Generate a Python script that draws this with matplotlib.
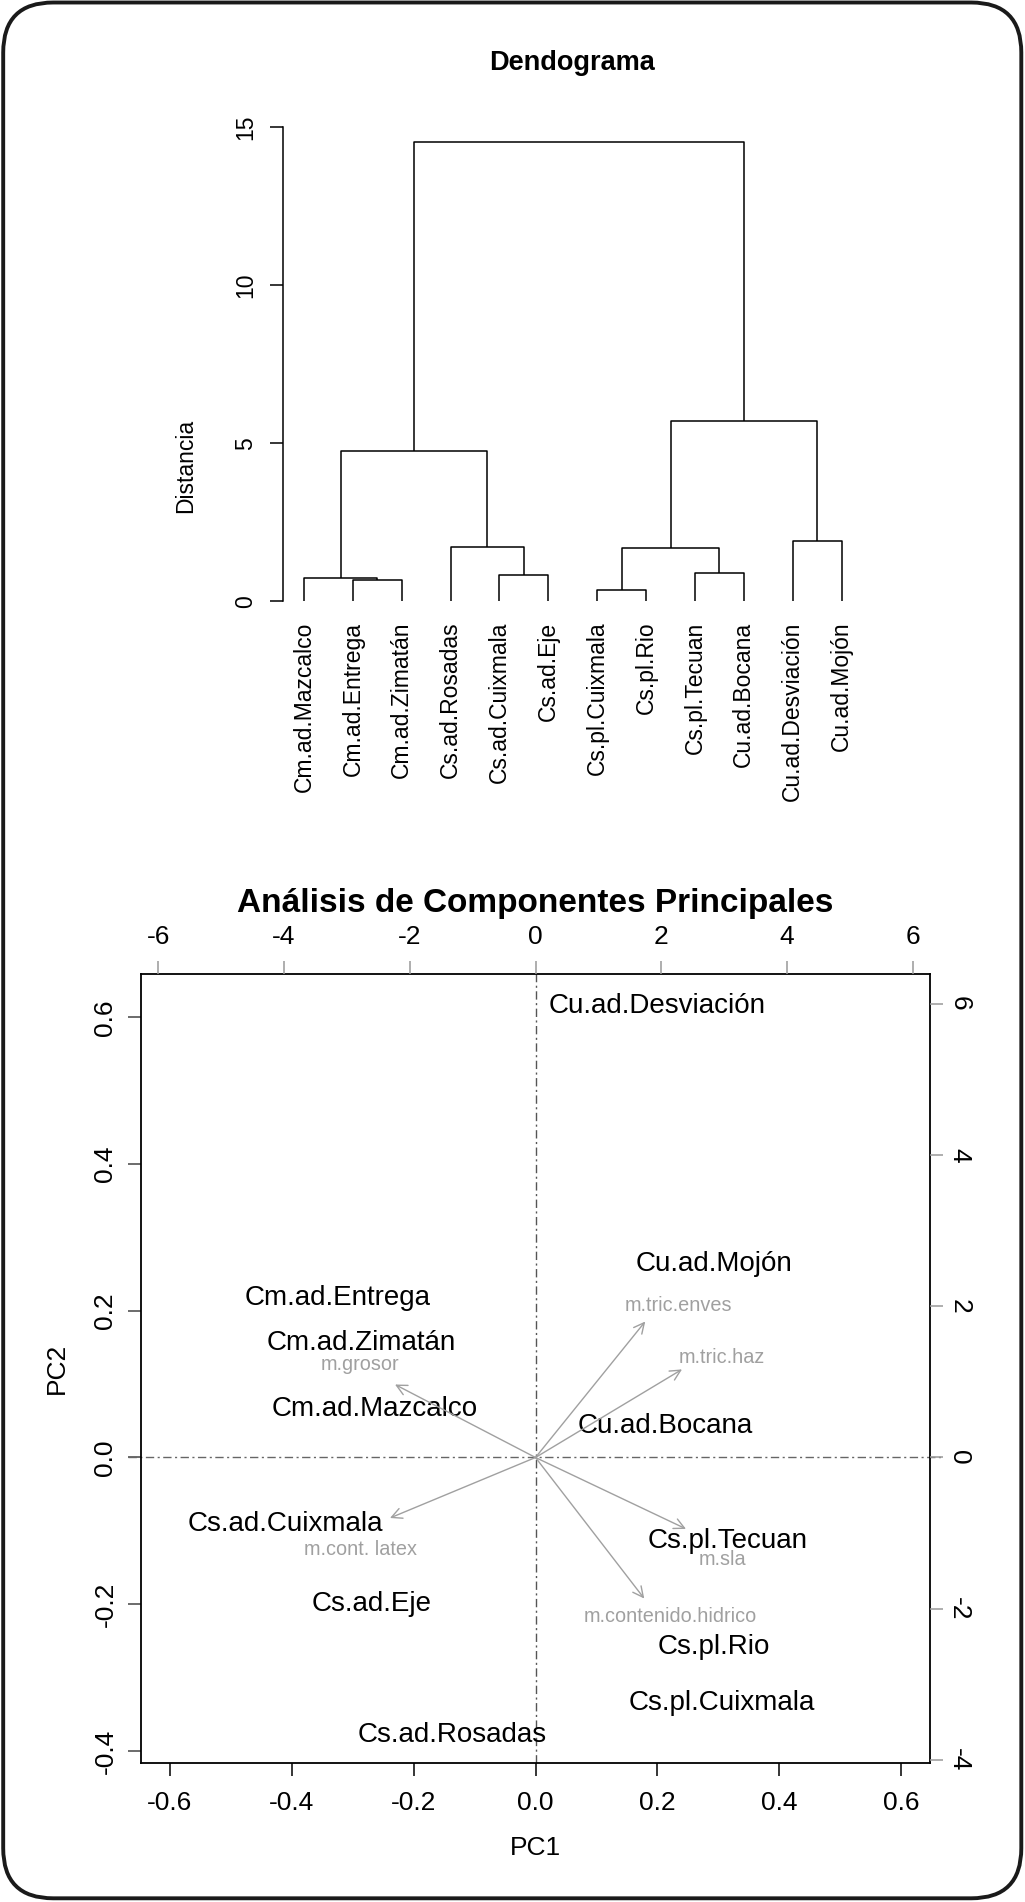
import matplotlib
matplotlib.use("Agg")
import matplotlib.pyplot as plt
from matplotlib.patches import FancyBboxPatch
import numpy as np

plt.rcParams['font.family'] = ['Liberation Sans', 'DejaVu Sans']

W, H = 1025, 1902

# ---------------- dendrogram data ----------------
leaves = ['Cm.ad.Mazcalco', 'Cm.ad.Entrega', 'Cm.ad.Zimatán', 'Cs.ad.Rosadas',
          'Cs.ad.Cuixmala', 'Cs.ad.Eje', 'Cs.pl.Cuixmala', 'Cs.pl.Rio',
          'Cs.pl.Tecuan', 'Cu.ad.Bocana', 'Cu.ad.Desviación', 'Cu.ad.Mojón']
# R style merge matrix: negative = leaf (1-based), positive = earlier merge row
merge_a = [-2, -1, -5, -4, 2, -7, -9, 6, -11, 8, 5]
merge_b = [-3, 1, -6, 3, 4, -8, -10, 7, -12, 9, 10]
heights = [0.675, 0.75, 0.84, 1.73, 4.75, 0.375, 0.89, 1.68, 1.90, 5.71, 14.53]
dist_ticks = [0, 5, 10, 15]

# ---------------- PCA biplot data ----------------
obs_names = ['Cu.ad.Desviación', 'Cu.ad.Mojón', 'Cm.ad.Entrega', 'Cm.ad.Zimatán',
             'Cm.ad.Mazcalco', 'Cu.ad.Bocana', 'Cs.ad.Cuixmala', 'Cs.pl.Tecuan',
             'Cs.ad.Eje', 'Cs.pl.Rio', 'Cs.pl.Cuixmala', 'Cs.ad.Rosadas']
pc1 = [0.200, 0.293, -0.325, -0.285, -0.264, 0.212, -0.410, 0.315, -0.269, 0.292, 0.305, -0.136]
pc2 = [0.616, 0.264, 0.217, 0.156, 0.066, 0.043, -0.091, -0.114, -0.200, -0.258, -0.335, -0.378]

var_names = ['m.tric.enves', 'm.tric.haz', 'm.grosor', 'm.cont. latex', 'm.sla', 'm.contenido.hidrico']
arrow_x = [1.746, 2.331, -2.235, -2.315, 2.394, 1.730]
arrow_y = [1.798, 1.165, 0.965, -0.800, -0.944, -1.865]
varlab_x = [2.270, 2.971, -2.797, -2.789, 2.971, 2.142]
varlab_y = [2.011, 1.318, 1.232, -1.212, -1.352, -2.098]

pc1_ticks = [-0.6, -0.4, -0.2, 0.0, 0.2, 0.4, 0.6]
pc2_ticks = [-0.4, -0.2, 0.0, 0.2, 0.4, 0.6]
top_ticks = [-6, -4, -2, 0, 2, 4, 6]
right_ticks = [-4, -2, 0, 2, 4, 6]
ratio = 9.70
xlim = (-0.647, 0.647)
ylim = (-0.416, 0.6586)


def fx(px):
    return px / W


def fy(py):
    return 1 - py / H


fig = plt.figure(figsize=(W / 100, H / 100), dpi=100)

# rounded frame
bg = fig.add_axes([0, 0, 1, 1])
bg.set_xlim(0, W)
bg.set_ylim(H, 0)
bg.axis('off')
bg.add_patch(FancyBboxPatch((3.2, 2.5), 1021.3 - 3.2, 1898.3 - 2.5,
                            boxstyle="round,pad=0,rounding_size=50",
                            lw=2.8, ec='#1a1a1a', fc='none'))

# ================= dendrogram =================
ax = fig.add_axes([fx(282.5), fy(619.8), fx(863.1) - fx(282.5), fy(123.6) - fy(619.8)])
n = len(leaves)
leaf_x = np.arange(1, n + 1)
node_x, node_h = [], []


def pos(k):
    if k < 0:
        return leaf_x[-k - 1], 0.0
    return node_x[k - 1], node_h[k - 1]


for a, b, h in zip(merge_a, merge_b, heights):
    xa, ha = pos(a)
    xb, hb = pos(b)
    ax.plot([xa, xa, xb, xb], [ha, h, h, hb], color='black', lw=1.1, solid_capstyle='butt')
    node_x.append((xa + xb) / 2)
    node_h.append(h)

ax.set_xlim(0.56, 12.44)
ax.set_ylim(-0.581, 15.106)
for s in ['top', 'right', 'bottom']:
    ax.spines[s].set_visible(False)
ax.spines['left'].set_bounds(0, 15)
ax.spines['left'].set_linewidth(1.1)
ax.set_xticks([])
ax.set_yticks(dist_ticks)
ax.set_yticklabels([str(t) for t in dist_ticks], rotation=90, va='center')
ax.tick_params(axis='y', length=9.6, width=1.1, pad=8.6, labelsize=16.5)
ax.patch.set_visible(False)

for x, name in zip(leaf_x, leaves):
    ax.annotate(name, xy=(x, 0), xytext=(0, -14.6), textcoords='offset points',
                rotation=90, ha='center', va='top', fontsize=16.5)

fig.text(fx(572), fy(69.5), 'Dendograma', ha='center', va='baseline',
         fontsize=19.5, fontweight='bold')
fig.text(fx(186), fy(466), 'Distancia', ha='center', va='center',
         rotation=90, fontsize=16.5)

# ================= PCA biplot =================
rect = [fx(141), fy(1762.7), fx(930) - fx(141), fy(974.3) - fy(1762.7)]
bx = fig.add_axes(rect)
bx.set_xlim(*xlim)
bx.set_ylim(*ylim)
for s in bx.spines.values():
    s.set_linewidth(1.3)
bx.set_xticks(pc1_ticks)
bx.set_xticklabels(['%.1f' % t for t in pc1_ticks])
bx.set_yticks(pc2_ticks)
bx.set_yticklabels(['%.1f' % t for t in pc2_ticks], rotation=90, va='center')
bx.tick_params(axis='x', length=9.4, width=1.1, pad=11, labelsize=19)
bx.tick_params(axis='y', length=9.4, width=1.1, pad=7.6, labelsize=19, color='#444444')

bx.axvline(0, color='#555555', lw=1.0, ls=(0, (6, 2.5, 1.5, 2.5)))
bx.plot([-0.669, 0.667], [0, 0], color='#666666', lw=1.0,
        ls=(0, (6, 2.5, 1.5, 2.5)), clip_on=False)

for x, y, name in zip(pc1, pc2, obs_names):
    bx.text(x, y, name, ha='center', va='center', fontsize=20)

# secondary coordinate system for the loadings
b2 = fig.add_axes(rect)
b2.patch.set_visible(False)
for s in b2.spines.values():
    s.set_visible(False)
b2.set_xlim(xlim[0] * ratio, xlim[1] * ratio)
b2.set_ylim(ylim[0] * ratio, ylim[1] * ratio)
b2.xaxis.tick_top()
b2.yaxis.tick_right()
b2.set_xticks(top_ticks)
b2.set_xticklabels([str(t) for t in top_ticks])
b2.set_yticks(right_ticks)
b2.set_yticklabels([str(t) for t in right_ticks], rotation=270, va='center')
b2.tick_params(axis='x', length=9.4, width=1.1, pad=8.6, labelsize=19, color='#999999')
b2.tick_params(axis='y', length=9.4, width=1.1, pad=3.1, labelsize=19, color='#999999')

gray = '#a0a0a0'
for x, y in zip(arrow_x, arrow_y):
    b2.annotate('', xy=(x, y), xytext=(0, 0),
                arrowprops=dict(arrowstyle='->,head_length=0.5,head_width=0.25',
                                mutation_scale=15, color=gray, lw=1.0,
                                shrinkA=0, shrinkB=0))
for x, y, name in zip(varlab_x, varlab_y, var_names):
    b2.text(x, y, name, ha='center', va='center', fontsize=14.3, color=gray)

fig.text(fx(535), fy(911.7), 'Análisis de Componentes Principales', ha='center',
         va='baseline', fontsize=24, fontweight='bold')
fig.text(fx(535), fy(1848), 'PC1', ha='center', va='center', fontsize=19)
fig.text(fx(57), fy(1368), 'PC2', ha='center', va='center', rotation=90, fontsize=19)

fig.savefig('out.png', dpi=100, facecolor='white')
